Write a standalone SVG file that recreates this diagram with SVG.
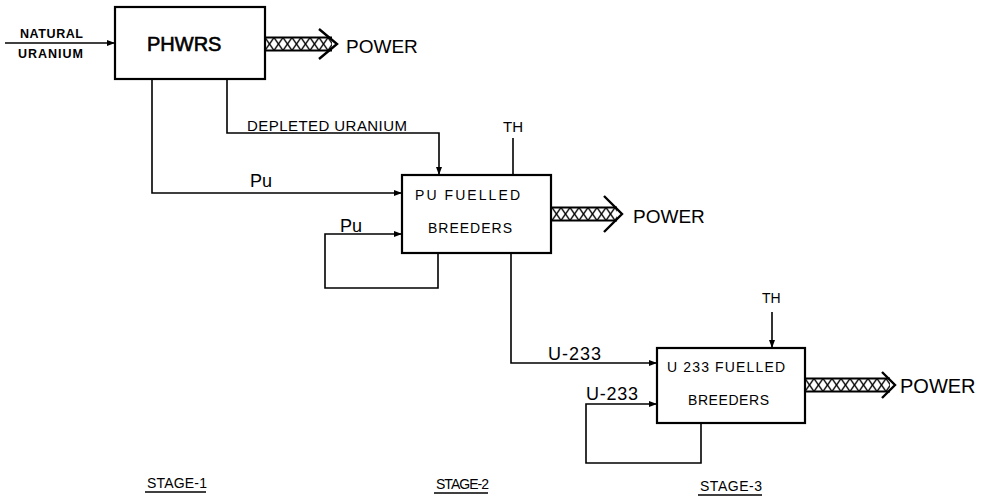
<svg xmlns="http://www.w3.org/2000/svg" width="985" height="501" viewBox="0 0 985 501">
<style>
  .box { fill: #fff; stroke: #000; stroke-width: 2.2; }
  .ln { fill: none; stroke: #000; stroke-width: 1.6; }
  .ar { fill: none; stroke: #000; stroke-width: 1.6; marker-end: url(#ah); }
  .t { font-family: "Liberation Sans", Arial, sans-serif; fill: #000; }
  .band { fill: url(#hatch); stroke: none; }
  .bandedge { fill: none; stroke: #000; stroke-width: 2; }
  .chev { fill: none; stroke: #000; stroke-width: 2.4; stroke-linejoin: miter; }
</style>
<defs>
  <marker id="ah" markerWidth="8" markerHeight="6" refX="8" refY="3" orient="auto" markerUnits="userSpaceOnUse">
    <path d="M0,0 L8,3 L0,6 Z" fill="#000"/>
  </marker>
  <pattern id="hatch" patternUnits="userSpaceOnUse" x="0" y="-6.5" width="9" height="13">
    <rect width="9" height="13" fill="#fff"/>
    <path d="M0,0 L9,13 M9,0 L0,13" stroke="#000" stroke-width="1.3"/>
  </pattern>
</defs>
<rect width="985" height="501" fill="#fff"/>

<g id="connectors">
  <path class="ar" d="M5,43 H115"/>
  <path class="ar" d="M152,79 V193 H402"/>
  <path class="ar" d="M227,79 V133 H439 V175"/>
  <path class="ln" d="M513,138 V175"/>
  <path class="ar" d="M438,253 V288 H325 V234 H402"/>
  <path class="ar" d="M511,253 V363 H657"/>
  <path class="ar" d="M772,312 V348"/>
  <path class="ar" d="M701,423 V463 H586 V404 H657"/>
</g>

<g id="power1" transform="translate(265,44)">
  <rect class="band" x="0" y="-6.5" width="67" height="13"/>
  <path class="bandedge" d="M0,-6.5 H67 M0,6.5 H67"/>
  <path class="chev" d="M54,-15 L72,0 L54,15"/>
  <text class="t" x="81" y="9" font-size="19">POWER</text>
</g>
<g id="power2" transform="translate(552,214)">
  <rect class="band" x="0" y="-6.5" width="65" height="13"/>
  <path class="bandedge" d="M0,-6.5 H65 M0,6.5 H65"/>
  <path class="chev" d="M52,-18 L70,0 L52,18"/>
  <text class="t" x="81" y="9" font-size="19">POWER</text>
</g>
<g id="power3" transform="translate(805,385)">
  <rect class="band" x="0" y="-6.5" width="85" height="13"/>
  <path class="bandedge" d="M0,-6.5 H85 M0,6.5 H85"/>
  <path class="chev" d="M77,-13 L90,0 L77,13"/>
  <text class="t" x="95" y="8" font-size="20">POWER</text>
</g>

<g id="natural-uranium">
  <text class="t" x="20" y="38" font-size="12.5" textLength="63" font-weight="bold">NATURAL</text>
  <text class="t" x="18" y="58" font-size="12.5" textLength="65" font-weight="bold">URANIUM</text>
</g>

<g id="phwrs">
  <rect class="box" x="115" y="7" width="150" height="72"/>
  <text class="t" x="147" y="51" font-size="20" stroke="#000" stroke-width="0.6">PHWRS</text>
</g>

<g id="labels">
  <text class="t" x="247" y="131" font-size="15" textLength="160">DEPLETED URANIUM</text>
  <text class="t" x="250" y="187" font-size="18">Pu</text>
  <text class="t" x="340" y="232" font-size="18">Pu</text>
  <text class="t" x="503" y="132" font-size="15">TH</text>
  <text class="t" x="548" y="360" font-size="18" textLength="53">U-233</text>
  <text class="t" x="586" y="400" font-size="18" textLength="52">U-233</text>
  <text class="t" x="762" y="303" font-size="14">TH</text>
</g>

<g id="pu-breeders">
  <rect class="box" x="402" y="175" width="149" height="78"/>
  <text class="t" x="415" y="200" font-size="14" textLength="105">PU FUELLED</text>
  <text class="t" x="428" y="233" font-size="14" textLength="84">BREEDERS</text>
</g>

<g id="u233-breeders">
  <rect class="box" x="657" y="348" width="148" height="75"/>
  <text class="t" x="667" y="372" font-size="14" textLength="118">U 233 FUELLED</text>
  <text class="t" x="688" y="405" font-size="14" textLength="81">BREEDERS</text>
</g>

<g id="stages">
  <text class="t" x="147" y="488" font-size="14" textLength="60">STAGE-1</text>
  <path class="ln" d="M145,492 H206"/>
  <text class="t" x="436" y="489" font-size="14" textLength="53">STAGE-2</text>
  <path class="ln" d="M434,493 H488"/>
  <text class="t" x="700" y="491" font-size="14" textLength="62">STAGE-3</text>
  <path class="ln" d="M698,495 H762"/>
</g>
</svg>
